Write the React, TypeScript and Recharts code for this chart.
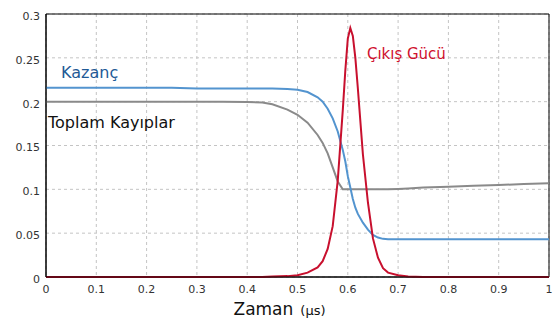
import React from 'react';
import {
  LineChart,
  Line,
  XAxis,
  YAxis,
  CartesianGrid,
  ReferenceArea,
  ReferenceDot,
} from 'recharts';

// time in microseconds
const time = [
  0, 0.05, 0.1, 0.15, 0.2, 0.25, 0.3, 0.35, 0.4, 0.43, 0.45, 0.48, 0.5, 0.52, 0.54, 0.55, 0.56, 0.57,
  0.58, 0.59, 0.595, 0.6, 0.605, 0.61, 0.615, 0.62, 0.63, 0.64, 0.65, 0.66, 0.67, 0.68, 0.7, 0.72,
  0.75, 0.8, 0.85, 0.9, 0.95, 1,
];

const kazanc = [
  0.216, 0.216, 0.216, 0.216, 0.216, 0.216, 0.215, 0.215, 0.215, 0.215, 0.215, 0.2145, 0.2135, 0.211,
  0.205, 0.2, 0.192, 0.181, 0.166, 0.145, 0.132, 0.115, 0.102, 0.089, 0.079, 0.072, 0.062, 0.054, 0.048,
  0.045, 0.0435, 0.043, 0.043, 0.043, 0.043, 0.043, 0.043, 0.043, 0.043, 0.043,
];

const kayiplar = [
  0.2, 0.2, 0.2, 0.2, 0.2, 0.2, 0.2, 0.2, 0.1995, 0.199, 0.197, 0.191, 0.185, 0.176, 0.162, 0.153, 0.141,
  0.125, 0.109, 0.1, 0.1, 0.1, 0.1, 0.1, 0.1, 0.1, 0.1, 0.1, 0.1, 0.1, 0.1, 0.1, 0.1005, 0.101, 0.102,
  0.103, 0.104, 0.105, 0.106, 0.107,
];

const cikis = [
  0, 0, 0, 0, 0, 0, 0, 0, 0, 0, 0.0005, 0.001, 0.002, 0.005, 0.011, 0.018, 0.032, 0.058, 0.11, 0.19,
  0.235, 0.272, 0.284, 0.275, 0.25, 0.215, 0.14, 0.085, 0.044, 0.022, 0.01, 0.005, 0.002, 0.0005, 0, 0,
  0, 0, 0, 0,
];

const xTicks = [0, 0.1, 0.2, 0.3, 0.4, 0.5, 0.6, 0.7, 0.8, 0.9, 1];
const yTicks = [0, 0.05, 0.1, 0.15, 0.2, 0.25, 0.3];

const data = time.map((t, i) => ({
  t,
  kazanc: kazanc[i],
  kayiplar: kayiplar[i],
  cikis: cikis[i],
}));

const font = '"DejaVu Sans", Verdana, sans-serif';

const fmt = (v: number) => String(v);

const textLabel = (text: string, color: string, size: number) => (props: any) => {
  const { viewBox } = props;
  return (
    <text x={viewBox.x} y={viewBox.y} fill={color} fontSize={size} fontFamily={font} textAnchor="start">
      {text}
    </text>
  );
};

const AxisTitle = (props: any) => {
  const { viewBox } = props;
  const x = viewBox.x + viewBox.width / 2 - 64;
  return (
    <text x={x} y={315} fill="#111" fontFamily={font} textAnchor="start">
      <tspan fontSize={17}>Zaman</tspan>
      <tspan fontSize={13} dx={7}>(μs)</tspan>
    </text>
  );
};

export default function App() {
  return (
    <div style={{ position: 'absolute', left: 0, top: 0, background: '#fff' }}>
      <LineChart width={560} height={322} data={data} margin={{ top: 14, right: 11, bottom: 0, left: 0 }}>
        <CartesianGrid stroke="#c4c4c4" strokeDasharray="3 3" />
        <XAxis
          dataKey="t"
          type="number"
          domain={[0, 1]}
          ticks={xTicks}
          tickFormatter={fmt}
          height={45}
          tickLine={false}
          axisLine={{ stroke: '#000' }}
          tick={{ fill: '#333', fontSize: 11, fontFamily: font }}
          tickSize={6}
          tickMargin={2}
          label={<AxisTitle />}
        />
        <XAxis
          xAxisId="top"
          dataKey="t"
          type="number"
          domain={[0, 1]}
          ticks={xTicks}
          orientation="top"
          mirror
          height={0}
          tickSize={4}
          tickFormatter={() => ''}
          axisLine={{ stroke: '#000' }}
          tickLine={{ stroke: '#000' }}
        />
        <YAxis
          type="number"
          domain={[0, 0.3]}
          ticks={yTicks}
          tickFormatter={fmt}
          width={46}
          tickLine={false}
          axisLine={{ stroke: '#000' }}
          tick={{ fill: '#333', fontSize: 11, fontFamily: font, dy: 2 }}
          tickSize={0}
          tickMargin={6}
        />
        <YAxis
          yAxisId="right"
          type="number"
          domain={[0, 0.3]}
          ticks={yTicks}
          orientation="right"
          mirror
          width={0}
          tickSize={4}
          tickFormatter={() => ''}
          axisLine={{ stroke: '#000' }}
          tickLine={{ stroke: '#000' }}
        />
        <Line
          dataKey="kayiplar"
          stroke="#8a8a8a"
          strokeWidth={2}
          dot={false}
          isAnimationActive={false}
        />
        <Line
          dataKey="kazanc"
          stroke="#5394cf"
          strokeWidth={2}
          dot={false}
          isAnimationActive={false}
        />
        <Line
          dataKey="cikis"
          stroke="#c8102e"
          strokeWidth={2}
          dot={false}
          isAnimationActive={false}
        />
        <ReferenceArea x1={0} x2={1} y1={0} y2={0.3} fill="none" stroke="#000" strokeWidth={1} ifOverflow="visible" />
        <ReferenceDot x={0.03} y={0.227} r={0} fill="none" stroke="none" label={textLabel('Kazanç', '#1f5a96', 16)} />
        <ReferenceDot x={0.004} y={0.17} r={0} fill="none" stroke="none" label={textLabel('Toplam Kayıplar', '#111', 16)} />
        <ReferenceDot x={0.638} y={0.2487} r={0} fill="none" stroke="none" label={textLabel('Çıkış Gücü', '#d0102e', 15)} />
      </LineChart>
    </div>
  );
}
